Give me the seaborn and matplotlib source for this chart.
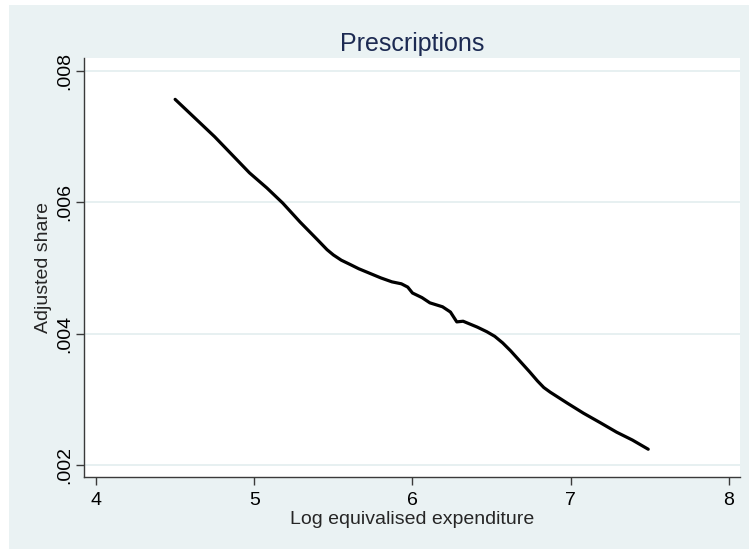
import matplotlib
matplotlib.use("Agg")
import matplotlib.pyplot as plt
import matplotlib.patches as patches
import pandas as pd
import seaborn as sns

# values
log_exp = [4.50, 4.75, 4.97, 5.08, 5.18, 5.29, 5.40, 5.46, 5.50, 5.55, 5.61,
           5.66, 5.71, 5.80, 5.87, 5.93, 5.97, 6.00, 6.06, 6.11, 6.19, 6.24,
           6.28, 6.32, 6.41, 6.47, 6.52, 6.57, 6.62, 6.68, 6.74, 6.79, 6.83,
           6.87, 6.98, 7.08, 7.19, 7.29, 7.39, 7.49]
adj_share = [.00757, .00700, .00645, .00622, .00599, .00570, .00543, .00528,
             .00520, .00512, .00505, .00499, .00494, .00485, .00479, .00476,
             .00471, .00462, .00455, .00447, .00441, .00433, .00418, .00419,
             .00410, .00403, .00396, .00386, .00374, .00358, .00342, .00328,
             .00318, .00311, .00294, .00279, .00264, .00250, .00238, .00224]
x_ticks = [4, 5, 6, 7, 8]
y_ticks = [.002, .004, .006, .008]
y_tick_labels = [".002", ".004", ".006", ".008"]

bg = "#eaf2f3"
grid_col = "#e3edef"
navy = "#1c2a52"

sns.set_style("white")
plt.rcParams['font.family'] = ['Liberation Sans', 'DejaVu Sans']

df = pd.DataFrame({'x': log_exp, 'y': adj_share})

fig = plt.figure(figsize=(7.49, 5.49), dpi=100, facecolor="white")
# light bluish-gray graph region (small white margin at left/top like the original)
fig.patches.append(patches.Rectangle((9 / 749, -0.05), 1.1, 1.05 - 5 / 549,
                                     transform=fig.transFigure,
                                     facecolor=bg, edgecolor="none", zorder=-5))

ax = fig.add_axes([84 / 749, 1 - 477 / 549, 656 / 749, 419 / 549])
ax.set_facecolor("white")

for t in y_ticks:
    ax.axhline(t, color=grid_col, lw=1.2, zorder=0)

sns.lineplot(data=df, x='x', y='y', ax=ax, color="black", lw=2.3)

ax.set_xlim(3.924, 8.07)
ax.set_ylim(.001817, .0082)
ax.set_xticks(x_ticks)
ax.set_xticklabels([str(v) for v in x_ticks])
ax.set_yticks(y_ticks)
ax.set_yticklabels(y_tick_labels, rotation=90, va="center")

for s in ['top', 'right']:
    ax.spines[s].set_visible(False)
for s in ['left', 'bottom']:
    ax.spines[s].set_color("#3a3a3a")
    ax.spines[s].set_linewidth(1.0)

ax.tick_params(axis='both', length=6, width=1, color="#3a3a3a",
               labelsize=14, labelcolor="black", direction='out',
               left=True, bottom=True)
ax.tick_params(axis='x', pad=5)
ax.tick_params(axis='y', pad=2)

ax.set_xlabel("Log equivalised expenditure", fontsize=14, labelpad=1)
ax.set_ylabel("Adjusted share", fontsize=14, labelpad=3)
ax.set_title("Prescriptions", fontsize=18, color=navy, pad=5)

fig.savefig("out.png", dpi=100, facecolor=fig.get_facecolor())
